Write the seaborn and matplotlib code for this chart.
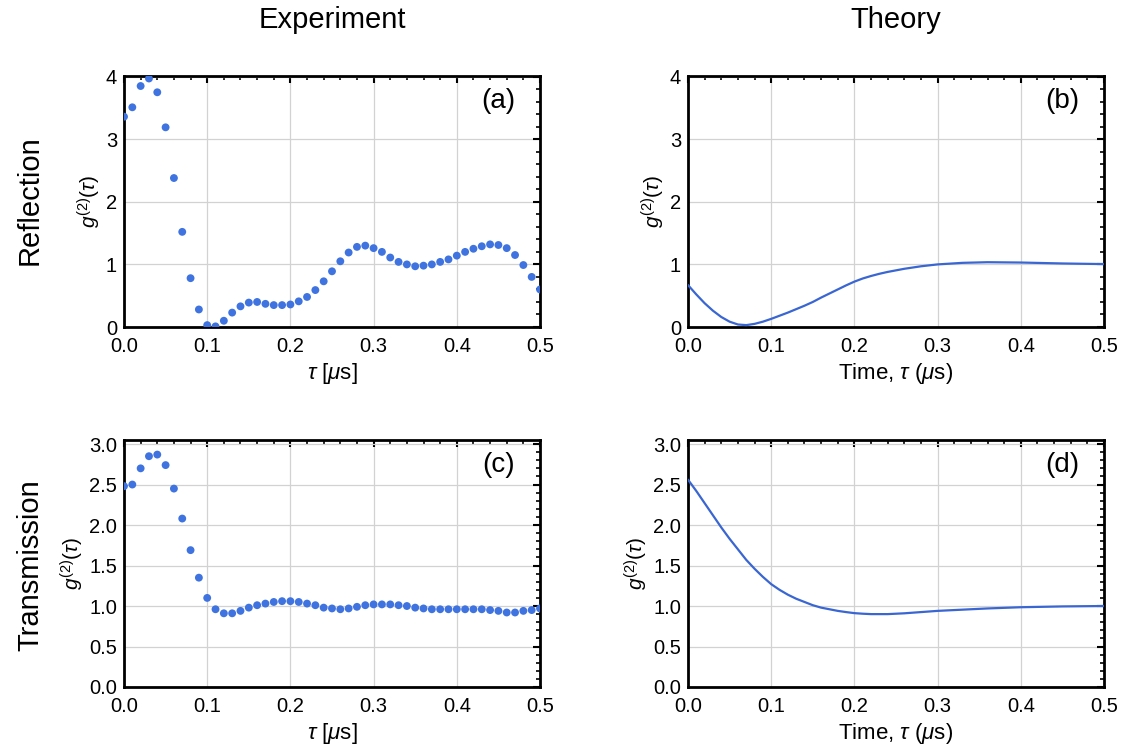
import numpy as np
import pandas as pd
import matplotlib
matplotlib.use("Agg")
import matplotlib.pyplot as plt
from matplotlib.ticker import MultipleLocator
import seaborn as sns

# experiment: tau every 0.01 us
tau_exp = [round(0.01 * i, 2) for i in range(51)]
g2_refl = [3.36, 3.51, 3.85, 3.97, 3.75, 3.19, 2.38, 1.52, 0.78, 0.28,
           0.03, 0.01, 0.10, 0.23, 0.33, 0.39, 0.40, 0.37, 0.35, 0.35,
           0.36, 0.41, 0.48, 0.59, 0.73, 0.89, 1.05, 1.19, 1.28, 1.30,
           1.26, 1.20, 1.11, 1.04, 1.00, 0.97, 0.98, 1.00, 1.04, 1.08,
           1.14, 1.20, 1.25, 1.29, 1.32, 1.31, 1.26, 1.15, 0.99, 0.80,
           0.60]
g2_trans = [2.48, 2.50, 2.70, 2.85, 2.87, 2.74, 2.45, 2.08, 1.69, 1.35,
            1.10, 0.96, 0.91, 0.91, 0.94, 0.98, 1.01, 1.03, 1.05, 1.06,
            1.06, 1.05, 1.03, 1.01, 0.98, 0.97, 0.96, 0.97, 0.99, 1.01,
            1.02, 1.02, 1.02, 1.01, 1.00, 0.98, 0.97, 0.96, 0.96, 0.96,
            0.96, 0.96, 0.96, 0.96, 0.95, 0.94, 0.92, 0.92, 0.94, 0.95,
            0.97]

# theory curves
tau_th_refl = [0, 0.01, 0.02, 0.03, 0.04, 0.05, 0.06, 0.07, 0.08, 0.09, 0.10,
               0.11, 0.12, 0.13, 0.14, 0.15, 0.16, 0.17, 0.18, 0.19, 0.20,
               0.21, 0.22, 0.23, 0.24, 0.26, 0.28, 0.30, 0.33, 0.36, 0.40,
               0.45, 0.50]
g2_th_refl = [0.67, 0.52, 0.38, 0.26, 0.16, 0.085, 0.04, 0.03, 0.05, 0.085, 0.13,
              0.18, 0.23, 0.285, 0.34, 0.40, 0.47, 0.535, 0.60, 0.665, 0.725,
              0.775, 0.815, 0.85, 0.88, 0.93, 0.97, 1.00, 1.025, 1.035, 1.03,
              1.015, 1.005]
tau_th_trans = [0, 0.01, 0.02, 0.03, 0.04, 0.05, 0.06, 0.07, 0.08, 0.09, 0.10,
                0.11, 0.12, 0.13, 0.14, 0.15, 0.16, 0.17, 0.18, 0.19, 0.20,
                0.21, 0.22, 0.23, 0.24, 0.26, 0.28, 0.30, 0.33, 0.36, 0.40,
                0.45, 0.50]
g2_th_trans = [2.56, 2.42, 2.27, 2.12, 1.97, 1.83, 1.70, 1.57, 1.46, 1.36, 1.27,
               1.20, 1.14, 1.09, 1.05, 1.01, 0.98, 0.96, 0.94, 0.925, 0.912,
               0.905, 0.90, 0.90, 0.90, 0.91, 0.925, 0.94, 0.955, 0.97, 0.985,
               0.995, 1.00]

col_titles = ["Experiment", "Theory"]
row_titles = ["Reflection", "Transmission"]
panel_tags = ["(a)", "(b)", "(c)", "(d)"]

sns.set_style("white")
plt.rcParams["font.family"] = ["Liberation Sans", "DejaVu Sans"]
plt.rcParams["mathtext.fontset"] = "custom"
plt.rcParams["mathtext.rm"] = "Liberation Sans"
plt.rcParams["mathtext.it"] = "Liberation Sans:italic"
plt.rcParams["text.color"] = "black"
plt.rcParams["axes.labelcolor"] = "black"

dot_color = "#3f73e0"
line_color = "#3a66d2"

fig = plt.figure(figsize=(11.26, 7.53), dpi=100)
W, H = 1126, 753


def make_ax(l, t, r, b):
    return fig.add_axes([l / W, 1 - b / H, (r - l) / W, (b - t) / H])


ax_a = make_ax(124, 76, 540, 327)
ax_b = make_ax(688, 76, 1104, 327)
ax_c = make_ax(124, 440, 540, 687)
ax_d = make_ax(688, 440, 1104, 687)

df_exp = pd.DataFrame({"tau": tau_exp, "refl": g2_refl, "trans": g2_trans})
df_thr = pd.DataFrame({"tau": tau_th_refl, "g2": g2_th_refl})
df_tht = pd.DataFrame({"tau": tau_th_trans, "g2": g2_th_trans})

sns.scatterplot(data=df_exp, x="tau", y="refl", ax=ax_a, color=dot_color,
                s=32, edgecolor="none", zorder=3)
sns.scatterplot(data=df_exp, x="tau", y="trans", ax=ax_c, color=dot_color,
                s=32, edgecolor="none", zorder=3)
sns.lineplot(data=df_thr, x="tau", y="g2", ax=ax_b, color=line_color, lw=1.6, zorder=3)
sns.lineplot(data=df_tht, x="tau", y="g2", ax=ax_d, color=line_color, lw=1.6, zorder=3)

for i, ax in enumerate([ax_a, ax_b, ax_c, ax_d]):
    ax.set_xlim(0, 0.5)
    ax.xaxis.set_major_locator(MultipleLocator(0.1))
    ax.xaxis.set_minor_locator(MultipleLocator(0.02))
    ax.xaxis.set_major_formatter(plt.FuncFormatter(lambda v, p: f"{v:.1f}"))
    if i < 2:
        ax.set_ylim(0, 4.01)
        ax.yaxis.set_major_locator(MultipleLocator(1))
        ax.yaxis.set_minor_locator(MultipleLocator(0.2))
        ax.yaxis.set_major_formatter(plt.FuncFormatter(lambda v, p: f"{v:.0f}"))
    else:
        ax.set_ylim(0, 3.05)
        ax.yaxis.set_major_locator(MultipleLocator(0.5))
        ax.yaxis.set_minor_locator(MultipleLocator(0.1))
        ax.yaxis.set_major_formatter(plt.FuncFormatter(lambda v, p: f"{v:.1f}"))
    ax.grid(True, which="major", color="#d2d2d2", lw=0.9)
    ax.set_axisbelow(True)
    ax.tick_params(which="both", direction="in", top=True, right=True,
                   colors="black", labelsize=14.5)
    ax.tick_params(axis="x", pad=7.5)
    ax.tick_params(axis="y", pad=5)
    ax.tick_params(which="major", length=5, width=1.5)
    ax.tick_params(which="minor", length=3, width=1.2)
    for sp in ax.spines.values():
        sp.set_linewidth(2.0)
        sp.set_color("black")
    ax.set_ylabel(r"$g^{(2)}(\tau)$", fontsize=15, labelpad=2)
    if i % 2 == 0:
        ax.set_xlabel(r"$\tau$ [$\mu$s]", fontsize=16, labelpad=3)
    else:
        ax.set_xlabel(r"Time, $\tau$ ($\mu$s)", fontsize=16, labelpad=3)
    ax.text(0.9, 0.9, panel_tags[i], transform=ax.transAxes, fontsize=20,
            ha="center", va="center")

fig.text(332 / W, 1 - 20 / H, col_titles[0], fontsize=21, ha="center", va="center")
fig.text(896 / W, 1 - 20 / H, col_titles[1], fontsize=21, ha="center", va="center")
fig.text(30 / W, 1 - 200 / H, row_titles[0], fontsize=21, ha="center", va="center",
         rotation=90)
fig.text(30 / W, 1 - 565 / H, row_titles[1], fontsize=21, ha="center", va="center",
         rotation=90)

fig.savefig("out.png", dpi=100)
